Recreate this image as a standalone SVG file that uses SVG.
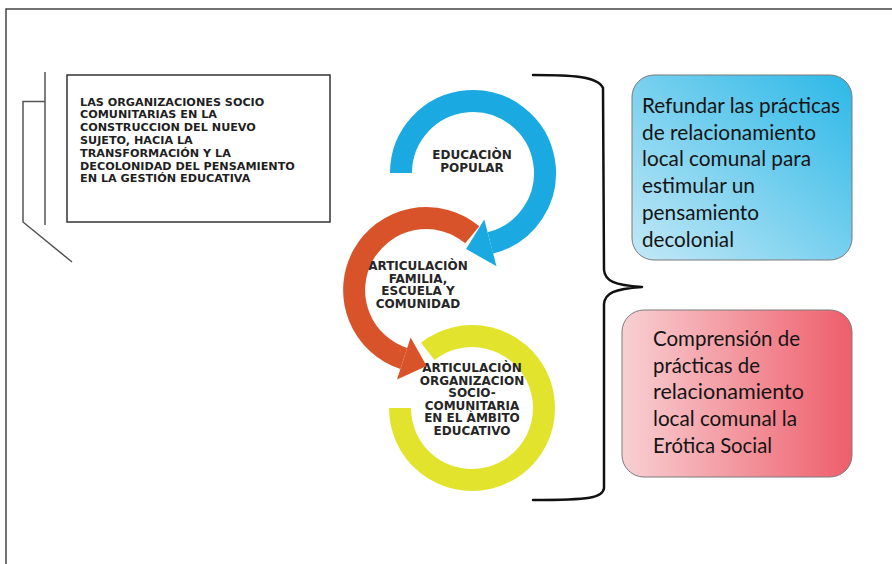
<svg xmlns="http://www.w3.org/2000/svg" width="892" height="564" viewBox="0 0 892 564">
  <defs>
    <linearGradient id="gBlue" x1="0" y1="1" x2="1" y2="0">
      <stop offset="0" stop-color="#c3e8f6"/>
      <stop offset="1" stop-color="#2cb8e7"/>
    </linearGradient>
    <linearGradient id="gRed" x1="0" y1="0" x2="1" y2="0">
      <stop offset="0" stop-color="#f8d0d3"/>
      <stop offset="1" stop-color="#ee5e6b"/>
    </linearGradient>
    <style>
      .frame { fill: none; stroke: #444; stroke-width: 1.5; }
      .thin { fill: none; stroke: #555; stroke-width: 1.5; }
      .cap { font-family: "DejaVu Sans", "Liberation Sans", sans-serif; font-weight: bold; fill: #1f1f1f; }
      .ring { font-size: 12px; text-anchor: middle; fill: #262626; }
      .box { font-family: Lato, "Liberation Sans", sans-serif; font-size: 21px; fill: #141414; }
      .arc { fill: none; stroke-width: 22; stroke-linecap: butt; }
    </style>
  </defs>

  <rect width="892" height="564" fill="#fff"/>
  <path class="frame" d="M6,564 V9 H892"/>

  <g id="decor-left">
    <path class="thin" d="M45,72 V225"/>
    <path class="thin" d="M45,101.5 H23 V222 L72,262"/>
  </g>

  <g id="node-title">
    <rect x="67" y="75" width="263" height="147" fill="#fff" stroke="#333" stroke-width="1.5"/>
    <g class="cap" font-size="11.2px">
      <text x="80" y="105.5">LAS ORGANIZACIONES SOCIO</text>
      <text x="80" y="118.3">COMUNITARIAS EN LA</text>
      <text x="80" y="131.1">CONSTRUCCION DEL NUEVO</text>
      <text x="80" y="143.9">SUJETO, HACIA LA</text>
      <text x="80" y="156.7">TRANSFORMACIÓN Y LA</text>
      <text x="80" y="169.5">DECOLONIDAD DEL PENSAMIENTO</text>
      <text x="80" y="182.3">EN LA GESTIÓN EDUCATIVA</text>
    </g>
  </g>

  <g id="node-articulacion-organizacion">
    <path class="arc" stroke="#e1e32c" d="M427.7,351.3 A72,72 0 1 1 400,408"/>
    <g class="cap ring">
      <text x="472" y="372">ARTICULACIÒN</text>
      <text x="472" y="384.6">ORGANIZACION</text>
      <text x="472" y="397.2">SOCIO-</text>
      <text x="472" y="409.8">COMUNITARIA</text>
      <text x="472" y="422.4">EN EL ÀMBITO</text>
      <text x="472" y="435">EDUCATIVO</text>
    </g>
  </g>

  <g id="node-articulacion-familia">
    <path class="arc" stroke="#d9532a" d="M472.3,234.8 A72,72 0 1 0 403.8,358.5"/>
    <polygon fill="#d9532a" points="397,379.4 410.6,337.6 426.6,365.9"/>
    <g class="cap ring">
      <text x="418" y="270">ARTICULACIÒN</text>
      <text x="418" y="282.6">FAMILIA,</text>
      <text x="418" y="295.2">ESCUELA Y</text>
      <text x="418" y="307.8">COMUNIDAD</text>
    </g>
  </g>

  <g id="node-educacion-popular">
    <path class="arc" stroke="#1aa9e1" d="M401,173 A72,72 0 1 1 490.4,242.9"/>
    <polygon fill="#1aa9e1" points="496.5,266.2 484.3,219.6 466.1,249"/>
    <g class="cap ring">
      <text x="472" y="159">EDUCACIÒN</text>
      <text x="472" y="172">POPULAR</text>
    </g>
  </g>

  <g id="connectors">
    <path fill="none" stroke="#111" stroke-width="2.5" stroke-linecap="round" stroke-linejoin="round"
      d="M533,75 C570,75 598,76 603,88 L604,270 C605,281 614,285 642,287 M642,287 C614,289 605,293 604,304 L604,488 C603,498 590,500 533,500"/>
  </g>

  <g id="node-refundar">
    <rect x="632" y="75" width="220" height="185" rx="22" ry="22" fill="url(#gBlue)" stroke="#7a7a7a" stroke-width="1"/>
    <g class="box">
      <text x="642" y="113" textLength="198" lengthAdjust="spacingAndGlyphs">Refundar las prácticas</text>
      <text x="642" y="139.7" textLength="174" lengthAdjust="spacingAndGlyphs">de relacionamiento</text>
      <text x="642" y="166.4" textLength="169" lengthAdjust="spacingAndGlyphs">local comunal para</text>
      <text x="642" y="193.1" textLength="113" lengthAdjust="spacingAndGlyphs">estimular un</text>
      <text x="642" y="219.8" textLength="117" lengthAdjust="spacingAndGlyphs">pensamiento</text>
      <text x="642" y="246.5" textLength="92" lengthAdjust="spacingAndGlyphs">decolonial</text>
    </g>
  </g>

  <g id="node-comprension">
    <rect x="622" y="310" width="230" height="167" rx="22" ry="22" fill="url(#gRed)" stroke="#7a7a7a" stroke-width="1"/>
    <g class="box">
      <text x="653" y="346" textLength="147" lengthAdjust="spacingAndGlyphs">Comprensión de</text>
      <text x="653" y="372.7" textLength="107" lengthAdjust="spacingAndGlyphs">prácticas de</text>
      <text x="653" y="399.4" textLength="151" lengthAdjust="spacingAndGlyphs">relacionamiento</text>
      <text x="653" y="426.1" textLength="144" lengthAdjust="spacingAndGlyphs">local comunal la</text>
      <text x="653" y="452.8" textLength="119" lengthAdjust="spacingAndGlyphs">Erótica Social</text>
    </g>
  </g>
</svg>
